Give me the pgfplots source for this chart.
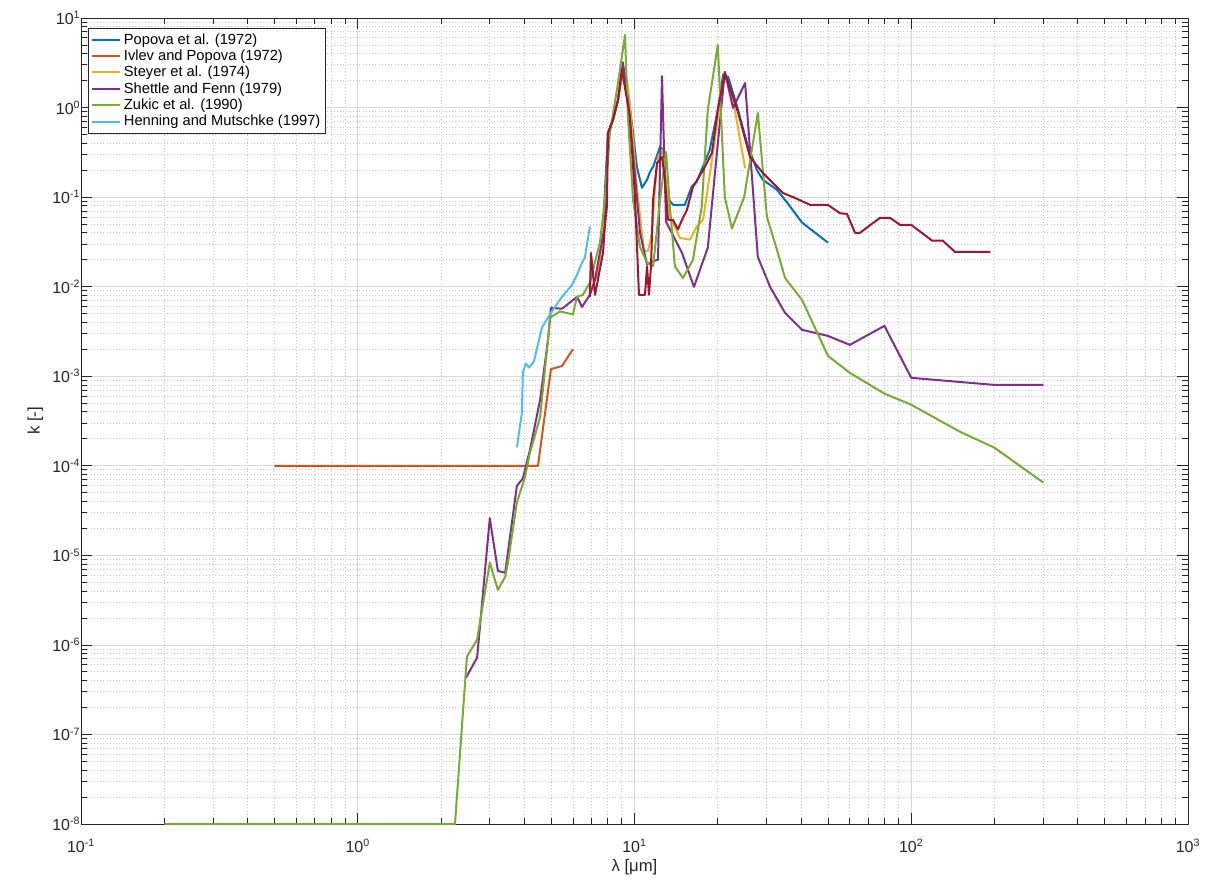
\documentclass[border=0pt]{standalone}
\usepackage{fontspec}
\setmainfont{Liberation Sans}
\usepackage{pgfplots}
\pgfplotsset{compat=1.18}
\definecolor{c1}{rgb}{0,0.447,0.741}
\definecolor{c2}{rgb}{0.850,0.325,0.098}
\definecolor{c3}{rgb}{0.929,0.694,0.125}
\definecolor{c4}{rgb}{0.494,0.184,0.556}
\definecolor{c5}{rgb}{0.466,0.674,0.188}
\definecolor{c6}{rgb}{0.301,0.745,0.933}
\definecolor{c7}{rgb}{0.635,0.078,0.184}
\definecolor{axgray}{rgb}{0.15,0.15,0.15}
\definecolor{gridgray}{rgb}{0.85,0.85,0.85}
\definecolor{minorgray}{rgb}{0.78,0.78,0.78}
\begin{document}
\begin{tikzpicture}
\begin{loglogaxis}[
  scale only axis,
  width=830.25pt, height=604.5pt,
  xmin=0.1, xmax=1000, ymin=1e-8, ymax=10,
  log basis x=10, log basis y=10,
  xticklabel={10\textsuperscript{\pgfmathparse{int(round(\tick))}\pgfmathresult}},
  yticklabel={10\textsuperscript{\pgfmathparse{int(round(\tick))}\pgfmathresult}},
  ytickten={-8,-7,-6,-5,-4,-3,-2,-1,0,1},
  xtickten={-1,0,1,2,3},
  minor xtick={0.2,0.3,0.4,0.5,0.6,0.7,0.8,0.9,2,3,4,5,6,7,8,9,20,30,40,50,60,70,80,90,200,300,400,500,600,700,800,900},
  minor ytick={2e-8,3e-8,4e-8,5e-8,6e-8,7e-8,8e-8,9e-8,
    2e-7,3e-7,4e-7,5e-7,6e-7,7e-7,8e-7,9e-7,
    2e-6,3e-6,4e-6,5e-6,6e-6,7e-6,8e-6,9e-6,
    2e-5,3e-5,4e-5,5e-5,6e-5,7e-5,8e-5,9e-5,
    2e-4,3e-4,4e-4,5e-4,6e-4,7e-4,8e-4,9e-4,
    2e-3,3e-3,4e-3,5e-3,6e-3,7e-3,8e-3,9e-3,
    2e-2,3e-2,4e-2,5e-2,6e-2,7e-2,8e-2,9e-2,
    0.2,0.3,0.4,0.5,0.6,0.7,0.8,0.9,
    2,3,4,5,6,7,8,9},
  grid=both,
  major grid style={gridgray, line width=0.6pt},
  minor grid style={minorgray, dotted, line width=0.6pt},
  axis line style={axgray, line width=0.6pt},
  tick style={axgray, line width=0.6pt},
  major tick length=8pt, minor tick length=4.5pt,
  tick align=inside,
  ticklabel style={font=\fontsize{12}{14}\selectfont, text=axgray},
  xticklabel style={yshift=-10pt, inner sep=1pt},
  yticklabel style={xshift=3pt},
  xlabel={λ [μm]}, ylabel={k [-]},
  label style={font=\fontsize{12.5}{15}\selectfont, text=axgray},
  xlabel style={at={(rel axis cs:0.5,0)}, anchor=center, inner sep=0pt, yshift=-32.5pt},
  legend style={at={(0.0065,0.988)}, anchor=north west, draw=axgray, fill=white,
    font=\fontsize{11}{13}\selectfont, row sep=-1.2pt, inner sep=2pt,
    line width=0.6pt},
  legend cell align=left,
  legend image code/.code={\draw[#1] (0pt,0pt) -- (21pt,0pt);},
  legend image post style={line width=1.5pt},
  every axis plot/.append style={line width=1.5pt, line join=round},
]
\addplot[c1] coordinates {(7.7,0.047)(8.02,0.52)(8.36,0.73)(8.72,1.22)(9.08,2.77)(9.4,1.88)(9.88,0.52)(10.2,0.218)(10.64,0.127)(11.1,0.156)(11.38,0.192)(11.67,0.218)(12.37,0.365)(12.68,0.337)(13.1,0.101)(13.77,0.082)(15.2,0.082)(16.1,0.131)(16.8,0.149)(18.7,0.337)(20.0,0.94)(20.9,2.32)(21.8,2.2)(23.5,1.02)(25.5,0.40)(27.7,0.20)(29.1,0.156)(32.7,0.121)(35.6,0.087)(40.3,0.052)(50,0.031)};
\addlegendentry{Popova et al. (1972)}
\addplot[c2] coordinates {(0.5,1e-4)(4.48,1e-4)(4.99,1.2e-3)(5.47,1.3e-3)(5.99,2e-3)};
\addlegendentry{Ivlev and Popova (1972)}
\addplot[c3] coordinates {(7.3,0.012)(7.5,0.02)(7.82,0.06)(8.02,0.5)(8.36,0.72)(8.72,1.2)(9.08,2.6)(9.47,1.7)(9.88,0.435)(10.2,0.13)(10.64,0.040)(10.82,0.025)(11.19,0.025)(11.57,0.040)(11.86,0.13)(12.16,0.28)(12.57,0.336)(13.43,0.06)(14.6,0.035)(15.86,0.0335)(16.8,0.047)(17.7,0.056)(19.05,0.26)(20.4,1.22)(21.2,2.5)(22.7,1.22)(25.1,0.21)};
\addlegendentry{Steyer et al. (1974)}
\addplot[c4] coordinates {(2.46,4.3e-7)(2.70,7.2e-7)(3.0,2.6e-5)(3.21,6.7e-6)(3.41,6.4e-6)(3.76,6.0e-5)(3.95,7.2e-5)(4.19,1.5e-4)(4.56,5.45e-4)(4.87,2.55e-3)(4.99,5.8e-3)(5.47,5.67e-3)(6.20,7.7e-3)(6.46,5.95e-3)(6.90,8.1e-3)(7.20,0.012)(7.82,0.049)(8.02,0.52)(8.36,0.73)(8.72,1.22)(9.08,3.2)(9.47,1.2)(9.88,0.3)(10.47,0.04)(11.1,0.0176)(11.5,0.019)(12.16,0.02)(12.57,2.25)(13.0,0.053)(14.85,0.0238)(16.4,0.00995)(18.4,0.0272)(19.9,0.336)(21.2,2.5)(22.7,0.99)(25.1,1.88)(27.9,0.0215)(30.9,0.00995)(35.0,0.0051)(40.3,0.0033)(50,0.00282)(60,0.00224)(80,0.00365)(100,9.6e-4)(200,8.0e-4)(300,8.0e-4)};
\addlegendentry{Shettle and Fenn (1979)}
\addplot[c5] coordinates {(0.2,1e-8)(2.246,1e-8)(2.48,7.4e-7)(2.70,1.14e-6)(3.0,8.3e-6)(3.21,4.1e-6)(3.41,5.8e-6)(3.49,8.3e-6)(3.76,3.9e-5)(4.02,7.5e-5)(4.19,1.4e-4)(4.56,3.5e-4)(4.87,2.55e-3)(4.95,4.5e-3)(5.38,5.3e-3)(5.99,4.9e-3)(6.20,7.7e-3)(6.51,8.1e-3)(6.90,0.0111)(7.5,0.031)(7.82,0.093)(8.15,0.52)(8.72,1.88)(9.24,6.46)(9.47,0.785)(9.88,0.093)(10.47,0.0278)(11.1,0.0185)(11.67,0.0168)(12.37,0.093)(13.0,0.32)(13.43,0.078)(14.0,0.0168)(14.97,0.0125)(16.26,0.0199)(17.5,0.078)(18.4,0.94)(20.0,5.0)(21.2,0.10)(22.5,0.0446)(24.9,0.10)(27.9,0.87)(30.1,0.06)(32.7,0.026)(35.0,0.0125)(40.3,0.00713)(50,0.00169)(60,0.00109)(80,6.4e-4)(100,4.8e-4)(150,2.4e-4)(200,1.59e-4)(300,6.5e-5)};
\addlegendentry{Zukic et al. (1990)}
\addplot[c6] coordinates {(3.76,1.6e-4)(3.92,3.95e-4)(3.95,1.1e-3)(4.05,1.39e-3)(4.16,1.25e-3)(4.33,1.46e-3)(4.63,3.5e-3)(4.95,4.9e-3)(5.38,7.2e-3)(5.95,0.0105)(6.2,0.0136)(6.46,0.0186)(6.62,0.0211)(6.9,0.047)};
\addlegendentry{Henning and Mutschke (1997)}
\addplot[c7, forget plot] coordinates {(6.9,0.0077)(6.96,0.0238)(7.06,0.0154)(7.20,0.0081)(7.70,0.024)(7.82,0.049)(7.95,0.078)(8.02,0.52)(8.36,0.73)(8.72,1.22)(9.01,2.63)(9.63,0.785)(10.04,0.10)(10.38,0.0081)(10.91,0.0081)(11.1,0.0168)(11.28,0.0081)(11.47,0.0168)(11.67,0.093)(12.06,0.24)(12.57,0.28)(12.89,0.156)(13.21,0.0557)(13.77,0.0557)(14.36,0.0436)(14.85,0.0557)(15.47,0.072)(16.26,0.13)(17.7,0.20)(19.05,0.312)(20.0,0.94)(21.2,2.43)(22.1,1.70)(23.7,0.87)(26.15,0.28)(29.1,0.186)(34.4,0.111)(38.0,0.098)(41.3,0.087)(43.1,0.082)(50,0.082)(55.3,0.066)(58.6,0.065)(62.6,0.040)(65.3,0.040)(77.1,0.0587)(83.8,0.0587)(91.1,0.049)(100,0.049)(119,0.0326)(130,0.0326)(144,0.0244)(193,0.0244)};
\end{loglogaxis}
\pgfresetboundingbox
\path (current axis.south west) ++(-60.75pt,-41.25pt) rectangle ++(906.75pt,659.25pt);
\end{tikzpicture}
\end{document}
